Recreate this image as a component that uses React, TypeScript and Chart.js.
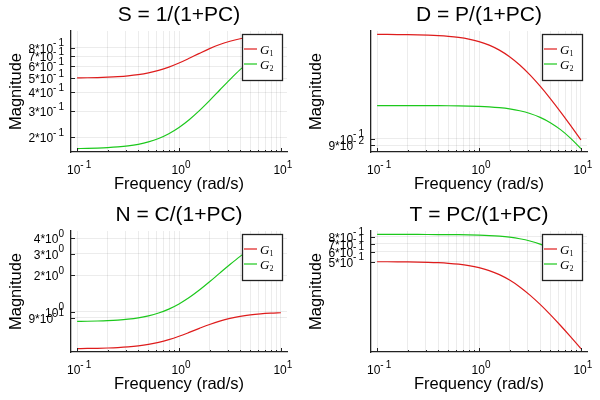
import React, { useEffect, useRef } from "react";
import { Chart, registerables } from "chart.js";
Chart.register(...registerables);

// ---------- data ----------
const frequency = [0.1, 0.12589, 0.15849, 0.19953, 0.25119, 0.31623, 0.39811, 0.50119, 0.63096, 0.79433, 1, 1.2589, 1.5849, 1.9953, 2.5119, 3.1623, 3.9811, 5.0119, 6.3096, 7.9433, 10];

const seriesLabels = ["G₁", "G₂"];
const seriesColors = ["rgb(222,28,28)", "rgb(28,200,28)"];

const sG1 = [0.50187, 0.50295, 0.50466, 0.50734, 0.51152, 0.51797, 0.52782, 0.54251, 0.56381, 0.59346, 0.63246, 0.68032, 0.73437, 0.79001, 0.84203, 0.88641, 0.92134, 0.94709, 0.96516, 0.97739, 0.98547];
const sG2 = [0.16747, 0.16794, 0.16869, 0.16986, 0.1717, 0.17456, 0.179, 0.18578, 0.19599, 0.21101, 0.2325, 0.26225, 0.30198, 0.35297, 0.41565, 0.48901, 0.57005, 0.65372, 0.7337, 0.80425, 0.86177];

const dG1 = [0.49938, 0.49901, 0.49844, 0.49753, 0.49611, 0.49386, 0.49038, 0.485, 0.47683, 0.46469, 0.44721, 0.42315, 0.39187, 0.35397, 0.31144, 0.26726, 0.22446, 0.18532, 0.15108, 0.12208, 0.09806];
const dG2 = [0.16664, 0.16663, 0.16661, 0.16658, 0.16652, 0.16644, 0.1663, 0.16609, 0.16575, 0.16523, 0.1644, 0.16312, 0.16114, 0.15815, 0.15374, 0.14744, 0.13888, 0.12791, 0.11485, 0.10046, 0.08575];

const nG1 = [0.50187, 0.50295, 0.50466, 0.50734, 0.51152, 0.51797, 0.52782, 0.54251, 0.56381, 0.59346, 0.63246, 0.68032, 0.73437, 0.79001, 0.84203, 0.88641, 0.92134, 0.94709, 0.96516, 0.97739, 0.98547];
const nG2 = [0.83735, 0.8397, 0.84345, 0.8493, 0.8585, 0.8728, 0.895, 0.9289, 0.97995, 1.05505, 1.1625, 1.31125, 1.5099, 1.76485, 2.07825, 2.44505, 2.85025, 3.2686, 3.6685, 4.02125, 4.30885];

const tG1 = [0.49938, 0.49901, 0.49844, 0.49753, 0.49611, 0.49386, 0.49038, 0.485, 0.47683, 0.46469, 0.44721, 0.42315, 0.39187, 0.35397, 0.31144, 0.26726, 0.22446, 0.18532, 0.15108, 0.12208, 0.09806];
const tG2 = [0.8332, 0.83315, 0.83305, 0.8329, 0.8326, 0.8322, 0.8315, 0.83045, 0.82875, 0.82615, 0.822, 0.8156, 0.8057, 0.79075, 0.7687, 0.7372, 0.6944, 0.63955, 0.57425, 0.5023, 0.42875];

const xMajorTicks = [0.1, 1, 10];
const xMajorLabels = ["10⁻¹", "10⁰", "10¹"];
const xMinorTicks = [0.2, 0.3, 0.4, 0.5, 0.6, 0.7, 0.8, 0.9, 2, 3, 4, 5, 6, 7, 8, 9];

const sYTicks = [0.2, 0.3, 0.4, 0.5, 0.6, 0.7, 0.8];
const sYLabels = ["2*10⁻¹", "3*10⁻¹", "4*10⁻¹", "5*10⁻¹", "6*10⁻¹", "7*10⁻¹", "8*10⁻¹"];
const dYTicks = [0.09, 0.1];
const dYLabels = ["9*10⁻²", "10⁻¹"];
const nYTicks = [0.9, 1, 2, 3, 4];
const nYLabels = ["9*10⁻¹", "10⁰", "2*10⁰", "3*10⁰", "4*10⁰"];
const tYTicks = [0.5, 0.6, 0.7, 0.8];
const tYLabels = ["5*10⁻¹", "6*10⁻¹", "7*10⁻¹", "8*10⁻¹"];

const titles = ["S = 1/(1+PC)", "D = P/(1+PC)", "N = C/(1+PC)", "T = PC/(1+PC)"];
const xTitle = "Frequency (rad/s)";
const yTitle = "Magnitude";

// ---------- helpers ----------
const FONT = "'Liberation Sans', Arial, sans-serif";
const SUBS: Record<string, string> = { "₀": "0", "₁": "1", "₂": "2", "₃": "3" };
const SUPS: Record<string, string> = {
  "⁻": "-", "⁰": "0", "¹": "1", "²": "2", "³": "3", "⁴": "4", "⁵": "5", "⁶": "6", "⁷": "7", "⁸": "8", "⁹": "9",
};

function widen(values: number[]) {
  const lo = Math.min(...values);
  const hi = Math.max(...values);
  const span = Math.log10(hi / lo);
  return { min: Math.pow(10, Math.log10(lo) - 0.03 * span), max: Math.pow(10, Math.log10(hi) + 0.03 * span) };
}

function splitLabel(label: string) {
  let i = 0;
  while (i < label.length && !(label[i] in SUPS)) i++;
  const base = label.slice(0, i);
  const exp = label.slice(i).split("").map((c) => SUPS[c] ?? c).join("");
  return { base, exp };
}

const BASE_FONT = `12px ${FONT}`;
const EXP_FONT = `10px ${FONT}`;

function measureExp(ctx: CanvasRenderingContext2D, exp: string) {
  ctx.font = EXP_FONT;
  let w = 0;
  exp.split("").forEach((c) => {
    w += ctx.measureText(c).width + (c === "-" ? 2 : 0);
  });
  return w;
}

// draws "base" + raised exponent; x = left edge, y = baseline of base
function drawPowLabel(ctx: CanvasRenderingContext2D, label: string, x: number, y: number) {
  const { base, exp } = splitLabel(label);
  ctx.font = BASE_FONT;
  ctx.textAlign = "left";
  ctx.textBaseline = "alphabetic";
  ctx.fillText(base, x, y);
  let cx = x + ctx.measureText(base).width;
  ctx.font = EXP_FONT;
  exp.split("").forEach((c) => {
    ctx.fillText(c, cx, y - 6.5);
    cx += ctx.measureText(c).width + (c === "-" ? 2 : 0);
  });
}

function powLabelWidth(ctx: CanvasRenderingContext2D, label: string) {
  const { base, exp } = splitLabel(label);
  ctx.font = BASE_FONT;
  return ctx.measureText(base).width + measureExp(ctx, exp);
}

const tickLabelPlugin = {
  id: "tickLabels",
  afterDraw(chart: any) {
    const { ctx, chartArea, scales } = chart;
    const opts = chart.options.plugins.tickLabels;
    ctx.save();
    ctx.fillStyle = "#000";
    opts.xTicks.forEach((v: number, i: number) => {
      const px = scales.x.getPixelForValue(v);
      const lbl = opts.xLabels[i];
      const w = powLabelWidth(ctx, lbl);
      drawPowLabel(ctx, lbl, px - w / 2 + 2, chartArea.bottom + 22);
    });
    opts.yTicks.forEach((v: number, i: number) => {
      const py = scales.y.getPixelForValue(v);
      const lbl = opts.yLabels[i];
      const w = powLabelWidth(ctx, lbl);
      drawPowLabel(ctx, lbl, chartArea.left - 7 - w, py + 5);
    });
    ctx.restore();
  },
};

const titlePlugin = {
  id: "subTitle",
  afterDraw(chart: any) {
    const { ctx, chartArea } = chart;
    ctx.save();
    ctx.font = `21px ${FONT}`;
    ctx.fillStyle = "#000";
    ctx.textAlign = "center";
    ctx.textBaseline = "alphabetic";
    ctx.fillText(chart.options.plugins.subTitle.text, (chartArea.left + chartArea.right) / 2, 20.5);
    ctx.restore();
  },
};

const innerTicksPlugin = {
  id: "innerTicks",
  afterDatasetsDraw(chart: any) {
    const { ctx, chartArea, scales } = chart;
    ctx.save();
    ctx.strokeStyle = "#222";
    ctx.lineWidth = 1;
    scales.x.ticks.forEach((t: any) => {
      const px = Math.round(scales.x.getPixelForValue(t.value)) + 0.5;
      const len = xMajorTicks.includes(t.value) ? 4 : 2;
      ctx.beginPath();
      ctx.moveTo(px, chartArea.bottom);
      ctx.lineTo(px, chartArea.bottom - len);
      ctx.stroke();
    });
    scales.y.ticks.forEach((t: any) => {
      const py = Math.round(scales.y.getPixelForValue(t.value)) + 0.5;
      ctx.beginPath();
      ctx.moveTo(chartArea.left, py);
      ctx.lineTo(chartArea.left + 4, py);
      ctx.stroke();
    });
    ctx.restore();
  },
};

const legendPlugin = {
  id: "insideLegend",
  afterDatasetsDraw(chart: any) {
    const { ctx, chartArea } = chart;
    const x0 = chartArea.right - 45;
    const y0 = chartArea.top + 3;
    const w = 40;
    const h = 46;
    ctx.save();
    ctx.fillStyle = "#fff";
    ctx.fillRect(x0, y0, w, h);
    ctx.strokeStyle = "#222";
    ctx.lineWidth = 1.3;
    ctx.strokeRect(x0 + 0.5, y0 + 0.5, w, h);
    chart.data.datasets.forEach((ds: any, i: number) => {
      const y = y0 + 15 + i * 15;
      ctx.strokeStyle = ds.borderColor;
      ctx.lineWidth = 1.2;
      ctx.beginPath();
      ctx.moveTo(x0 + 2, y);
      ctx.lineTo(x0 + 15, y);
      ctx.stroke();
      const label: string = ds.label;
      const base = label.slice(0, 1);
      const sub = label.slice(1).split("").map((c) => SUBS[c] ?? c).join("");
      ctx.fillStyle = "#000";
      ctx.textAlign = "left";
      ctx.textBaseline = "alphabetic";
      ctx.font = `italic 13px 'Liberation Serif', serif`;
      ctx.fillText(base, x0 + 18, y + 4.5);
      const bw = ctx.measureText(base).width;
      ctx.font = `8px 'Liberation Serif', serif`;
      ctx.fillText(sub, x0 + 18 + bw, y + 7);
    });
    ctx.restore();
  },
};

function makeConfig(title: string, g1: number[], g2: number[], yTicks: number[], yLabels: string[]): any {
  const xr = widen(frequency);
  const yr = widen([...g1, ...g2]);
  const xTicks = [...xMajorTicks, ...xMinorTicks].sort((a, b) => a - b);
  return {
    type: "line",
    data: {
      datasets: [g1, g2].map((vals, i) => ({
        label: seriesLabels[i],
        data: frequency.map((f, k) => ({ x: f, y: vals[k] })),
        borderColor: seriesColors[i],
        backgroundColor: seriesColors[i],
        borderWidth: 1.2,
        pointRadius: 0,
        cubicInterpolationMode: "monotone",
        fill: false,
      })),
    },
    options: {
      animation: false,
      responsive: false,
      events: [],
      layout: { padding: { top: 31, right: 13, left: 0, bottom: 0 } },
      plugins: {
        legend: { display: false },
        tooltip: { enabled: false },
        title: { display: false },
        subTitle: { text: title },
        tickLabels: { xTicks: xMajorTicks, xLabels: xMajorLabels, yTicks, yLabels },
      },
      scales: {
        x: {
          type: "logarithmic",
          min: xr.min,
          max: xr.max,
          afterBuildTicks: (s: any) => {
            s.ticks = xTicks.map((v) => ({ value: v }));
          },
          afterFit: (s: any) => {
            s.height = 48;
          },
          ticks: { display: false, autoSkip: false, maxRotation: 0, minRotation: 0 },
          grid: { color: "rgba(0,0,0,0.075)", drawTicks: false, lineWidth: 1 },
          border: { display: true, color: "#222", width: 1.3 },
          title: {
            display: true,
            text: xTitle,
            color: "#000",
            font: { family: FONT, size: 16.5 },
            padding: { top: 0, bottom: 5.5 },
          },
        },
        y: {
          type: "logarithmic",
          min: yr.min,
          max: yr.max,
          afterBuildTicks: (s: any) => {
            s.ticks = yTicks.map((v) => ({ value: v }));
          },
          afterFit: (s: any) => {
            s.width = 71;
          },
          ticks: { display: false, autoSkip: false },
          grid: { color: "rgba(0,0,0,0.075)", drawTicks: false, lineWidth: 1 },
          border: { display: true, color: "#222", width: 1.3 },
          title: {
            display: true,
            text: yTitle,
            color: "#000",
            font: { family: FONT, size: 16.5 },
            padding: { top: 7, bottom: 0 },
          },
        },
      },
    },
    plugins: [innerTicksPlugin, legendPlugin, titlePlugin, tickLabelPlugin],
  };
}

function Panel(props: { cfg: () => any }) {
  const ref = useRef<HTMLCanvasElement>(null);
  useEffect(() => {
    const chart = new Chart(ref.current as HTMLCanvasElement, props.cfg());
    return () => chart.destroy();
  }, []);
  return <canvas ref={ref} width={300} height={200} style={{ display: "block", width: 300, height: 200 }} />;
}

export default function App() {
  return (
    <div
      style={{
        position: "absolute",
        left: 0,
        top: 0,
        width: 600,
        height: 400,
        background: "#fff",
        display: "grid",
        gridTemplateColumns: "300px 300px",
        gridTemplateRows: "200px 200px",
      }}
    >
      <Panel cfg={() => makeConfig(titles[0], sG1, sG2, sYTicks, sYLabels)} />
      <Panel cfg={() => makeConfig(titles[1], dG1, dG2, dYTicks, dYLabels)} />
      <Panel cfg={() => makeConfig(titles[2], nG1, nG2, nYTicks, nYLabels)} />
      <Panel cfg={() => makeConfig(titles[3], tG1, tG2, tYTicks, tYLabels)} />
    </div>
  );
}
